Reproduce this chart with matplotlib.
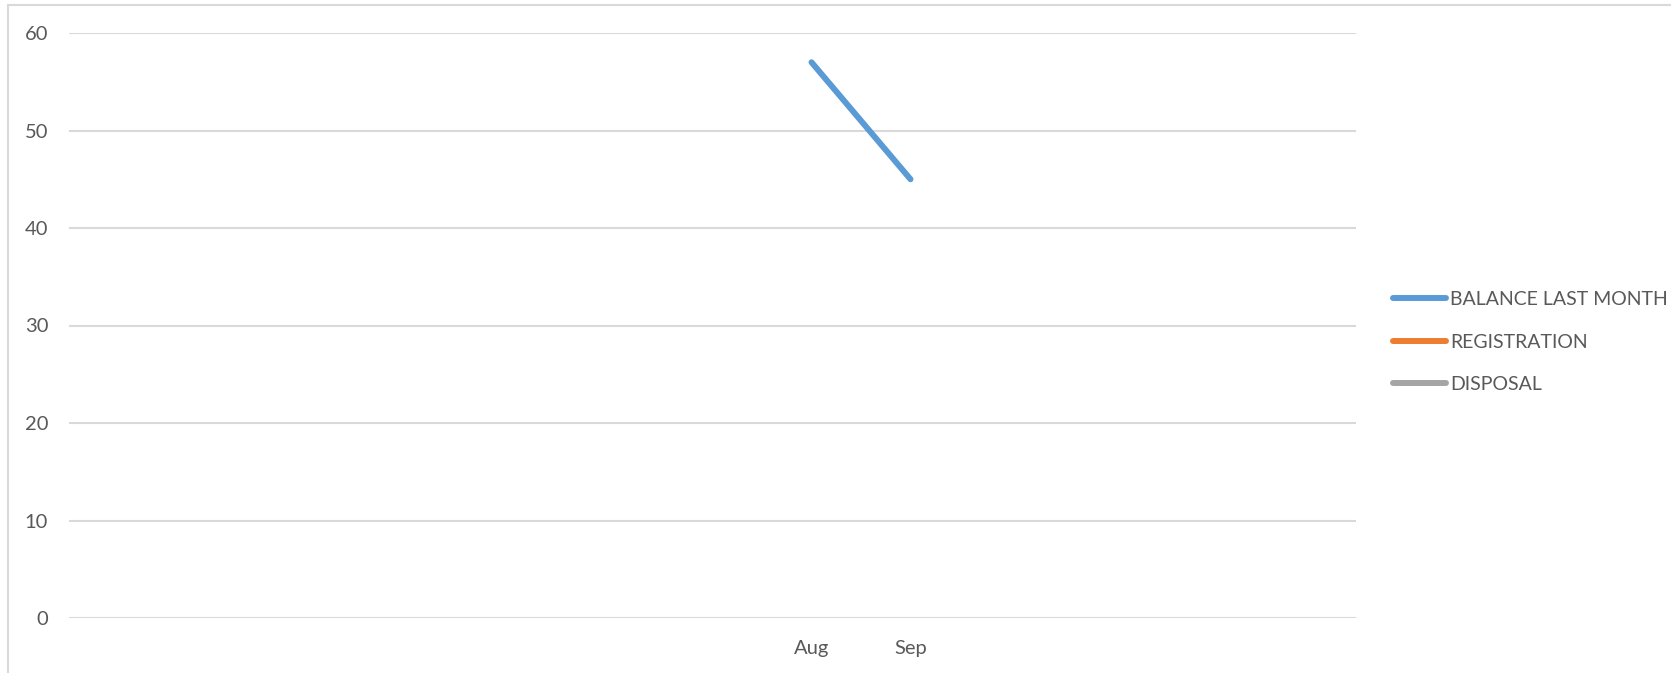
import numpy as np
import matplotlib.pyplot as plt
from matplotlib.patches import Rectangle

plt.rcParams['font.family'] = ['Lato', 'DejaVu Sans']

# categorias (solo Aug y Sep tienen etiqueta)
months = ['', '', '', '', '', '', '', 'Aug', 'Sep', '', '', '', '']
balance_last_month = [np.nan] * 7 + [57, 45] + [np.nan] * 4
registration = [np.nan] * 13
disposal = [np.nan] * 13
y_ticks = [0, 10, 20, 30, 40, 50, 60]

text_color = '#595959'
grid_color = '#d9d9d9'

fig = plt.figure(figsize=(16.71, 6.73), dpi=100)
ax = fig.add_axes([69 / 1671, 1 - 618 / 673, (1356 - 69) / 1671, (618 - 33) / 673])

x = np.arange(len(months))
ax.plot(x, balance_last_month, color='#5B9BD5', lw=4.3, solid_capstyle='round', label='BALANCE LAST MONTH')
ax.plot(x, registration, color='#ED7D31', lw=4.3, solid_capstyle='round', label='REGISTRATION')
ax.plot(x, disposal, color='#A5A5A5', lw=4.3, solid_capstyle='round', label='DISPOSAL')

ax.set_xlim(-0.5, len(months) - 0.5)
ax.set_ylim(0, 60)
ax.set_yticks(y_ticks)
ax.set_xticks(x)
ax.set_xticklabels(months)
ax.grid(axis='y', color=grid_color, lw=1.5)
ax.set_axisbelow(True)
for s in ax.spines.values():
    s.set_visible(False)
ax.tick_params(axis='both', length=0, colors=text_color, labelsize=14.5)
ax.tick_params(axis='y', pad=15)
ax.tick_params(axis='x', pad=16)

# marco del grafico (cortado a la derecha y abajo)
fig.patches.append(Rectangle((8 / 1671, -0.1), 1.2, 1 - 5 / 673 + 0.1, transform=fig.transFigure,
                             fill=False, edgecolor=grid_color, lw=1.5, figure=fig))

leg = fig.legend(loc='center left', bbox_to_anchor=(1393 / 1671, 1 - 342 / 673), frameon=False,
                 fontsize=14, handlelength=2.7, handletextpad=0.25, labelspacing=1.3,
                 borderpad=0, borderaxespad=0)
for t in leg.get_texts():
    t.set_color(text_color)

fig.savefig('out.png', dpi=100)
